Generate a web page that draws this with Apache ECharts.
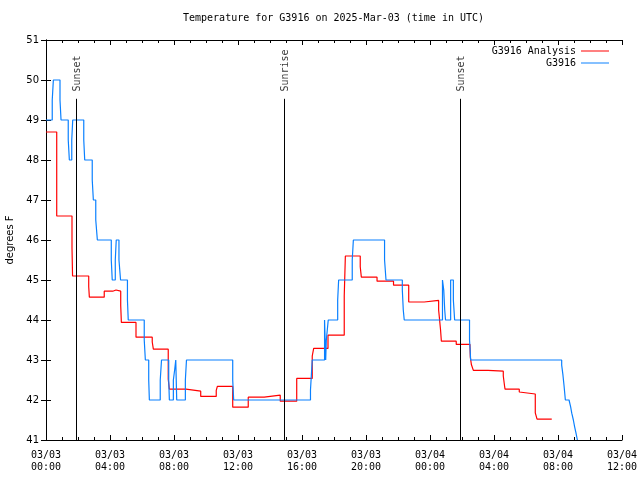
<!DOCTYPE html>
<html>
<head>
<meta charset="utf-8">
<script src="https://cdn.jsdelivr.net/npm/echarts@6/dist/echarts.min.js"></script>
<style>html,body{margin:0;padding:0;background:#fff}#c{width:640px;height:480px}</style>
</head>
<body>
<div id="c"></div>
<script>
// hours after 2025-03-03 00:00 UTC
var redTimes = [0.00,0.67,1.625,1.66,2.67,2.71,3.64,4.17,4.375,4.67,4.71,5.625,6.64,6.71,7.64,7.71,8.75,9.67,10.64,10.71,11.67,12.64,13.64,14.64,15.67,16.64,16.73,17.625,18.64,18.71,19.64,19.71,20.69,21.72,22.67,23.64,24.54,24.66,24.71,25.64,26.5,26.52,26.59,26.71,27.625,28.58,28.66,28.69,29.58,29.67,30.58,30.69,31.61];
var redTemps = [48.7,46.6,45.8,45.1,44.83,44.57,44.72,44.75,44.72,44.36,43.94,43.57,43.45,43.27,42.52,42.27,42.22,42.09,42.24,42.34,41.82,42.07,42.12,41.97,42.54,43.1,43.29,43.62,44.6,45.6,45.33,45.07,44.97,44.87,44.45,44.49,44.25,43.75,43.47,43.39,43.33,43.07,42.88,42.74,42.72,42.6,42.35,42.27,42.2,42.15,41.68,41.52,41.52];
var blueTimes = [0,0.39,0.46,0.875,0.94,1.39,1.46,1.61,1.67,2.36,2.42,2.89,2.96,3.11,3.21,4.08,4.14,4.33,4.39,4.56,4.66,5.09,5.14,6.14,6.21,6.42,6.46,7.14,7.22,7.67,7.71,7.96,8.04,8.11,8.14,8.17,8.71,8.78,11.67,11.73,16.53,16.64,17.41,17.48,17.52,17.64,18.23,18.29,19.14,19.21,21.16,21.25,22.27,22.33,22.39,24.78,24.86,24.92,24.97,25.29,25.46,25.54,26.47,26.51,26.54,32.23,32.31,32.375,32.46,32.69,32.79,32.86,32.96,33.04,33.125,33.21];
var blueTemps = [49.0,49.5,50.0,49.5,49.0,48.5,48.0,48.5,49.0,48.5,48.0,47.5,47.0,46.5,46.0,45.5,45.0,45.5,46.0,45.5,45.0,44.5,44.0,43.5,43.0,42.5,42.0,42.5,43.0,42.5,42.0,42.5,42.75,43.0,42.5,42.0,42.5,43.0,42.5,42.0,42.25,43.0,44.0,43.0,43.5,44.0,44.5,45.0,45.5,46.0,45.5,45.0,44.75,44.25,44.0,45.0,44.75,44.25,44.0,45.0,44.5,44.0,43.5,43.25,43.0,42.87,42.62,42.37,42.0,41.96,41.83,41.67,41.5,41.33,41.17,41.0];
var sunTimes = [1.875, 14.89, 25.9];
var sunLabels = ['Sunset', 'Sunrise', 'Sunset'];
var xTickLabels = ['03/03\n00:00','03/03\n04:00','03/03\n08:00','03/03\n12:00','03/03\n16:00','03/03\n20:00','03/04\n00:00','03/04\n04:00','03/04\n08:00','03/04\n12:00'];
var seriesNames = ['G3916 Analysis', 'G3916'];

var mono = 'DejaVu Sans Mono';
function pairs(t, v) { return t.map(function (x, i) { return [x, v[i]]; }); }

var chart = echarts.init(document.getElementById('c'), null, {renderer: 'canvas'});
var axisCommon = {
  axisLine: {show: true, lineStyle: {color: '#000', width: 1}},
  splitLine: {show: false}
};
var legendCommon = {
  orient: 'vertical', align: 'right', padding: 0, right: 31,
  icon: 'rect', itemWidth: 28, itemHeight: 1,
  textStyle: {fontFamily: mono, fontSize: 10, color: '#000'}
};
chart.setOption({
  animation: false,
  backgroundColor: '#fff',
  title: {
    text: 'Temperature for G3916 on 2025-Mar-03 (time in UTC)',
    left: 183, top: 13, padding: 0,
    textStyle: {fontFamily: mono, fontSize: 10, fontWeight: 'normal', color: '#000'}
  },
  legend: [
    Object.assign({data: [seriesNames[0]], top: 46}, legendCommon),
    Object.assign({data: [seriesNames[1]], top: 58}, legendCommon)
  ],
  grid: {left: 46, right: 18, top: 40, bottom: 40, containLabel: false, outerBoundsMode: 'none'},
  xAxis: [
    Object.assign({
      type: 'value', min: 0, max: 36, interval: 4, position: 'bottom',
      axisTick: {show: true, inside: true, length: 5, lineStyle: {color: '#000'}},
      minorTick: {show: true, splitNumber: 4, length: 3, lineStyle: {color: '#000'}},
      axisLabel: {show: true, margin: 9, lineHeight: 12, fontFamily: mono, fontSize: 10, color: '#000',
        formatter: function (v) { return xTickLabels[Math.round(v / 4)]; }}
    }, axisCommon),
    Object.assign({
      type: 'value', min: 0, max: 36, interval: 4, position: 'top',
      axisTick: {show: true, inside: true, length: 5, lineStyle: {color: '#000'}},
      minorTick: {show: true, splitNumber: 4, length: 3, lineStyle: {color: '#000'}},
      axisLabel: {show: false}
    }, axisCommon)
  ],
  yAxis: [
    Object.assign({
      type: 'value', min: 41, max: 51, interval: 1, position: 'left',
      name: 'degrees F', nameLocation: 'middle', nameRotate: 90, nameGap: 31,
      nameTextStyle: {fontFamily: 'DejaVu Sans', fontSize: 10, color: '#000'},
      axisTick: {show: true, inside: true, length: 5, lineStyle: {color: '#000'}},
      axisLabel: {show: true, margin: 7, fontFamily: 'DejaVu Sans', fontSize: 10, color: '#000'}
    }, axisCommon),
    Object.assign({
      type: 'value', min: 41, max: 51, interval: 1, position: 'right',
      axisTick: {show: true, inside: true, length: 5, lineStyle: {color: '#000'}},
      axisLabel: {show: false}
    }, axisCommon)
  ],
  series: [
    {
      name: seriesNames[0], type: 'line', step: 'end', symbol: 'none', showSymbol: false,
      xAxisIndex: 0, yAxisIndex: 0,
      lineStyle: {color: '#ff0000', width: 1.2}, itemStyle: {color: '#ff0000'},
      data: pairs(redTimes, redTemps)
    },
    {
      name: seriesNames[1], type: 'line', step: 'end', symbol: 'none', showSymbol: false,
      xAxisIndex: 0, yAxisIndex: 0,
      lineStyle: {color: '#0a80ff', width: 1.2}, itemStyle: {color: '#0a80ff'},
      data: pairs(blueTimes, blueTemps)
    },
    {
      name: 'sun', type: 'scatter', symbolSize: 0, silent: true,
      xAxisIndex: 0, yAxisIndex: 0,
      data: sunTimes.map(function (t) { return [t, 49.71]; }),
      label: {show: true, position: 'inside', rotate: 90, align: 'left', verticalAlign: 'middle',
        offset: [0, 1.5],
        fontFamily: mono, fontSize: 10, color: '#000',
        formatter: function (p) { return sunLabels[p.dataIndex]; }},
      markLine: {
        silent: true, symbol: ['none', 'none'], label: {show: false},
        lineStyle: {color: '#000', width: 1, type: 'solid'},
        data: sunTimes.map(function (t) { return [{coord: [t, 41]}, {coord: [t, 49.53]}]; })
      }
    }
  ]
});
</script>
</body>
</html>
